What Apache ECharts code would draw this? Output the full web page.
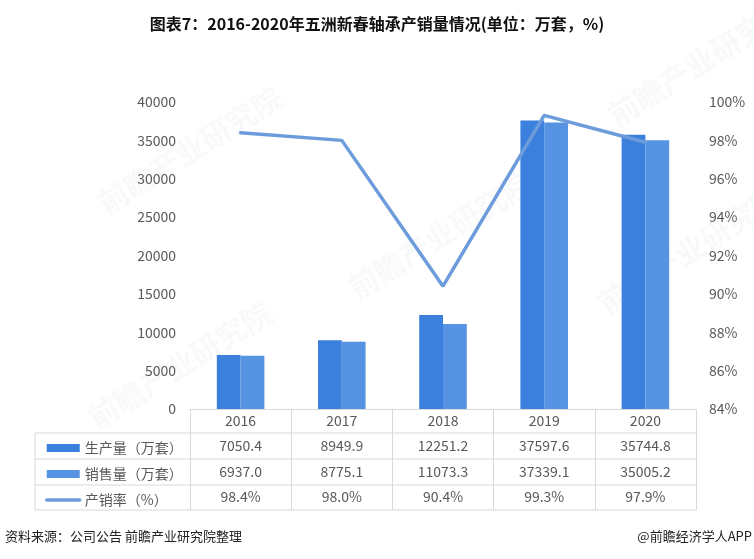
<!DOCTYPE html>
<html>
<head>
<meta charset="utf-8">
<script src="https://cdn.jsdelivr.net/npm/echarts@6/dist/echarts.min.js"></script>
<style>
html,body{margin:0;padding:0;background:#fff;}
#main{width:754px;height:559px;}
</style>
</head>
<body>
<div id="main"></div>
<script>
const categories = ['2016', '2017', '2018', '2019', '2020'];
const production = [7050.4, 8949.9, 12251.2, 37597.6, 35744.8];
const sales = [6937.0, 8775.1, 11073.3, 37339.1, 35005.2];
const rate = [98.4, 98.0, 90.4, 99.3, 97.9];
const seriesNames = ['生产量（万套）', '销售量（万套）', '产销率（%）'];
const titleText = '图表7：2016-2020年五洲新春轴承产销量情况(单位：万套，%)';
const sourceText = '资料来源：公司公告 前瞻产业研究院整理';
const brandText = '@前瞻经济学人APP';
const watermarkText = '前瞻产业研究院';

const FONT = '"Noto Sans CJK SC", "Noto Sans", sans-serif';
const GRAY = '#595959';
const LINE = '#d9d9d9';
const C_PROD = '#3B80DC';
const C_SALE = '#5694E3';
const C_RATE = '#6C9CDB';

const chart = echarts.init(document.getElementById('main'), null, {renderer: 'canvas'});

function rowAxis(offset, fmt) {
  return {
    type: 'category', data: categories, position: 'bottom', offset: offset,
    boundaryGap: true, axisLine: {show: false}, axisTick: {show: false},
    axisLabel: {margin: 5, color: GRAY, fontSize: 14, fontFamily: FONT, interval: 0,
      formatter: function (v, i) { return fmt(i); }},
    splitLine: {show: false}
  };
}

const tableLeft = 35, tableRight = 696;
const rowLines = [433, 459, 485, 510];
const graphics = [];
rowLines.forEach(function (y) {
  graphics.push({type: 'line', shape: {x1: tableLeft, y1: y, x2: tableRight, y2: y},
    style: {stroke: LINE, lineWidth: 1}, silent: true});
});
graphics.push({type: 'line', shape: {x1: tableLeft, y1: 433, x2: tableLeft, y2: 510},
  style: {stroke: LINE, lineWidth: 1}, silent: true});
const marks = [[190, 150], [440, 235], [180, 365], [700, 62], [690, 250]];
marks.forEach(function (m) {
  graphics.push({type: 'text', x: m[0], y: m[1], rotation: 32 * Math.PI / 180, z: -10,
    style: {text: watermarkText, fill: 'rgba(200,205,215,0.13)', font: 'bold 30px ' + FONT,
      align: 'center', verticalAlign: 'middle'}, silent: true});
});
graphics.push({type: 'text', left: 5, top: 530, style: {text: sourceText, fill: '#222', font: '13px ' + FONT}});
graphics.push({type: 'text', right: 2, top: 530, style: {text: brandText, fill: '#222', font: '13px ' + FONT}});

const option = {
  backgroundColor: '#fff',
  animation: false,
  title: {text: titleText, left: 'center', top: 11,
    textStyle: {fontSize: 16, fontWeight: 'bold', color: '#111', fontFamily: FONT}},
  grid: {left: 190, right: 58, top: 102, bottom: 150, containLabel: false},
  legend: {
    orient: 'vertical', left: 40, top: 436, itemWidth: 33, itemHeight: 8, itemGap: 12,
    textStyle: {color: GRAY, fontSize: 14, fontFamily: FONT, lineHeight: 14},
    data: [
      {name: seriesNames[0], icon: 'rect'},
      {name: seriesNames[1], icon: 'rect'},
      {name: seriesNames[2], itemStyle: {color: 'transparent', borderWidth: 0, opacity: 0},
        lineStyle: {color: C_RATE, width: 3.5, cap: 'round'}}
    ]
  },
  xAxis: [
    {type: 'category', data: categories, boundaryGap: true,
      axisLine: {lineStyle: {color: LINE}},
      axisTick: {show: true, interval: 0, length: 101, lineStyle: {color: LINE}},
      axisLabel: {margin: 5, color: GRAY, fontSize: 14, fontFamily: FONT, interval: 0}},
    rowAxis(25, function (i) { return production[i].toFixed(1); }),
    rowAxis(51, function (i) { return sales[i].toFixed(1); }),
    rowAxis(76, function (i) { return rate[i].toFixed(1) + '%'; })
  ],
  yAxis: [
    {type: 'value', min: 0, max: 40000, interval: 5000,
      axisLine: {show: false}, axisTick: {show: false}, splitLine: {show: false},
      axisLabel: {margin: 14, color: GRAY, fontSize: 14, fontFamily: FONT,
        formatter: function (v) { return String(v); }}},
    {type: 'value', min: 84, max: 100, interval: 2, position: 'right',
      axisLine: {show: false}, axisTick: {show: false}, splitLine: {show: false},
      axisLabel: {margin: 13, color: GRAY, fontSize: 14, fontFamily: FONT,
        formatter: function (v) { return v + '%'; }}}
  ],
  series: [
    {name: seriesNames[0], type: 'bar', data: production, barGap: '0%', barCategoryGap: '53%',
      itemStyle: {color: C_PROD}, z: 2},
    {name: seriesNames[1], type: 'bar', data: sales, itemStyle: {color: C_SALE}, z: 2},
    {name: seriesNames[2], type: 'line', yAxisIndex: 1, data: rate, symbol: 'none', showSymbol: false,
      lineStyle: {color: C_RATE, width: 3.5, cap: 'round'}, itemStyle: {color: C_RATE}, z: 5}
  ],
  graphic: graphics
};
chart.setOption(option);
</script>
</body>
</html>
